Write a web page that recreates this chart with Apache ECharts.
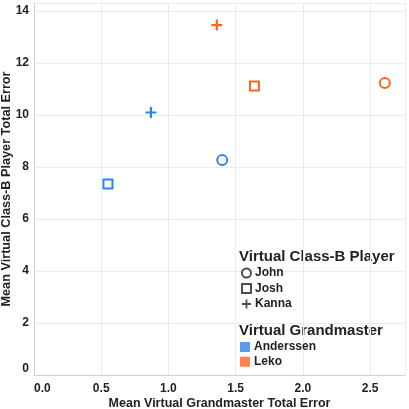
<!DOCTYPE html>
<html>
<head>
<meta charset="utf-8">
<script src="https://cdn.jsdelivr.net/npm/echarts@6/dist/echarts.min.js"></script>
<style>html,body{margin:0;padding:0;background:#fff}#c{width:409px;height:409px}</style>
</head>
<body>
<div id="c"></div>
<script>
const players = ['John', 'Josh', 'Kanna'];
const grandmasters = ['Anderssen', 'Leko'];
const andX = [1.40, 0.55, 0.87];
const andY = [8.26, 7.34, 10.09];
const lekoX = [2.61, 1.64, 1.36];
const lekoY = [11.22, 11.11, 13.45];
const xTicks = [0.0, 0.5, 1.0, 1.5, 2.0, 2.5];
const yTicks = [0, 2, 4, 6, 8, 10, 12, 14];

const FONT = 'Liberation Sans, Arial, sans-serif';
const gmColors = ['#2b86e8', '#fd6422'];
const PLUS = 'path://M4,0H6V4H10V6H6V10H4V6H0V4H4Z';
const playerSymbols = ['emptyCircle', 'emptyRect', PLUS];
const playerSizes = [10, 9, 11];
const xs = [andX, lekoX], ys = [andY, lekoY];

const series = [];
grandmasters.forEach((gm, g) => {
  players.forEach((p, i) => {
    const isPlus = i === 2;
    series.push({
      type: 'scatter',
      name: gm + ' / ' + p,
      symbol: playerSymbols[i],
      symbolSize: playerSizes[i],
      data: [[xs[g][i], ys[g][i]]],
      itemStyle: isPlus ? { color: gmColors[g], opacity: 1 } : { color: gmColors[g], borderColor: gmColors[g], borderWidth: 2, opacity: 1 },
      emphasis: { disabled: true },
      z: 3
    });
  });
});
players.forEach((p, i) => {
  series.push({
    type: 'scatter', name: p, symbol: playerSymbols[i], data: [],
    itemStyle: i === 2 ? { color: '#222' } : { color: '#222', borderColor: '#222', borderWidth: 1.5 }
  });
});
grandmasters.forEach((gm, g) => {
  series.push({ type: 'scatter', name: gm, symbol: 'rect', data: [], itemStyle: { color: gmColors[g] } });
});

const tickFmt = (ticks, digits) => v => ticks.some(t => Math.abs(t - v) < 1e-9) ? v.toFixed(digits) : '';

const chart = echarts.init(document.getElementById('c'), null, { renderer: 'canvas' });
chart.setOption({
  animation: false,
  backgroundColor: '#fff',
  textStyle: { fontFamily: FONT },
  grid: { left: 34, right: 4, top: 3, bottom: 34, containLabel: false, outerBoundsMode: 'none' },
  xAxis: {
    type: 'value', min: 0, max: 2.76, interval: 0.5,
    name: 'Mean Virtual Grandmaster Total Error', nameLocation: 'middle', nameGap: 22, nameMoveOverlap: false,
    nameTextStyle: { fontFamily: FONT, fontWeight: 'bold', fontSize: 12.5, color: '#222' },
    axisLine: { show: true, lineStyle: { color: '#d0d0d0' } },
    axisTick: { show: false },
    splitLine: { show: true, lineStyle: { color: '#ececec' } },
    axisLabel: { formatter: tickFmt(xTicks, 1), fontFamily: FONT, fontWeight: 'bold', fontSize: 12, color: '#222', margin: 8, alignMinLabel: 'left', showMaxLabel: true }
  },
  yAxis: {
    type: 'value', min: 0, max: 14.3, interval: 2,
    name: 'Mean Virtual Class-B Player Total Error', nameLocation: 'middle', nameGap: 21, nameMoveOverlap: false,
    nameTextStyle: { fontFamily: FONT, fontWeight: 'bold', fontSize: 12.7, color: '#222' },
    axisLine: { show: true, lineStyle: { color: '#d0d0d0' } },
    axisTick: { show: false },
    splitLine: { show: true, lineStyle: { color: '#ececec' } },
    axisLabel: { formatter: tickFmt(yTicks, 0), fontFamily: FONT, fontWeight: 'bold', fontSize: 12, color: '#222', margin: 5, verticalAlignMinLabel: 'bottom' }
  },
  legend: [
    {
      data: players, orient: 'vertical', left: 241, top: 267, padding: 0,
      itemWidth: 9, itemHeight: 9, itemGap: 3.5, selectedMode: false,
      textStyle: { fontFamily: FONT, fontWeight: 'bold', fontSize: 12, color: '#222', padding: [0, 0, 0, -1] }
    },
    {
      data: grandmasters, orient: 'vertical', left: 240, top: 341, padding: 0,
      itemWidth: 10, itemHeight: 10, itemGap: 2.7, selectedMode: false,
      textStyle: { fontFamily: FONT, fontWeight: 'bold', fontSize: 12, color: '#222', padding: [0, 0, 0, -1] }
    }
  ],
  graphic: [
    { type: 'text', left: 239, top: 249, style: { text: 'Virtual Class-B Player', fontFamily: FONT, fontWeight: 'bold', fontSize: 15, fill: '#222' } },
    { type: 'text', left: 239, top: 323, style: { text: 'Virtual Grandmaster', fontFamily: FONT, fontWeight: 'bold', fontSize: 15, fill: '#222' } }
  ],
  series: series
});
</script>
</body>
</html>
